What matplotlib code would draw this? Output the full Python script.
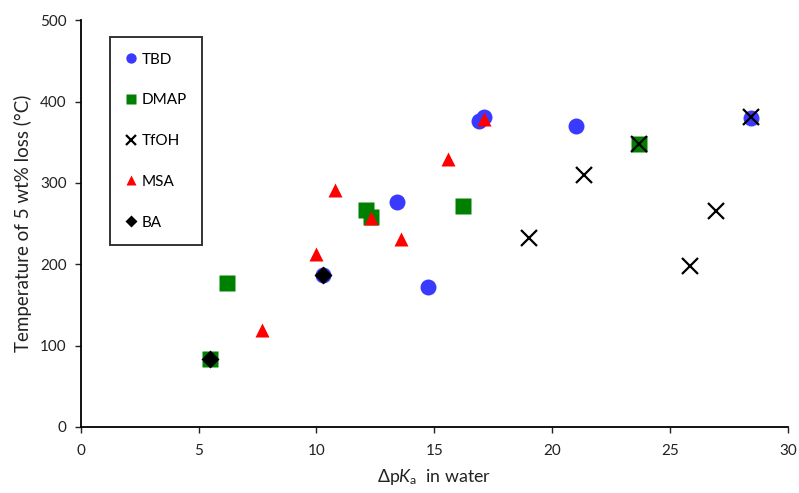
import matplotlib
matplotlib.use("Agg")
import matplotlib.pyplot as plt

plt.rcParams['font.family'] = ['Lato', 'DejaVu Sans']
plt.rcParams['mathtext.fontset'] = 'custom'
plt.rcParams['mathtext.rm'] = 'Lato'
plt.rcParams['mathtext.it'] = 'Lato:italic'

# Temperature at 5 wt% loss vs. delta pKa for each acid/base family
tbd_x = [10.3, 13.4, 14.75, 16.9, 17.1, 21.0, 28.45]
tbd_y = [187, 276, 172, 376, 381, 370, 380]

dmap_x = [5.5, 6.2, 12.1, 12.3, 16.2, 23.7]
dmap_y = [84, 177, 267, 258, 271, 348]

tfoh_x = [19.0, 21.35, 23.7, 25.85, 26.95, 28.45]
tfoh_y = [232, 310, 348, 198, 265, 381]

msa_x = [7.7, 10.0, 10.8, 12.3, 13.6, 15.6, 17.1]
msa_y = [119, 212, 291, 257, 231, 329, 379]

ba_x = [5.5, 10.3]
ba_y = [84, 187]

fig = plt.figure(figsize=(7.99, 4.93), dpi=100)
ax = fig.add_axes([0.101, 0.134, 0.885, 0.825])

ax.plot(tbd_x, tbd_y, 'o', color='#3a3aff', ms=11.5, mec='none', label='TBD', zorder=2)
ax.plot(dmap_x, dmap_y, 's', color='#008000', ms=11.5, mec='none', label='DMAP', zorder=3)
ax.plot(tfoh_x, tfoh_y, 'x', color='black', ms=12, mew=1.6, label='TfOH', zorder=5)
ax.plot(msa_x, msa_y, '^', color='#ff0000', ms=10.5, mec='none', label='MSA', zorder=4)
ax.plot(ba_x, ba_y, 'D', color='black', ms=9.5, mec='none', label='BA', zorder=6)

ax.set_xlim(0, 30)
ax.set_ylim(0, 500)
ax.set_xticks(range(0, 31, 5))
ax.set_yticks(range(0, 501, 100))
for s in ('top', 'right'):
    ax.spines[s].set_visible(False)
for s in ('left', 'bottom'):
    ax.spines[s].set_linewidth(1.3)
    ax.spines[s].set_color('black')
ax.tick_params(direction='out', length=4, width=1.0, labelsize=11, colors='#222222')
ax.tick_params(axis='x', pad=8)
ax.tick_params(axis='y', pad=6)

ax.set_xlabel(r'$\Delta$p$K_\mathrm{a}$  in water', fontsize=12.8, color='#222222', labelpad=7)
ax.set_ylabel('Temperature of 5 wt% loss (°C)', fontsize=13.5, color='#222222', labelpad=6)

leg = ax.legend(loc='upper left', bbox_to_anchor=(0.041, 0.958), fontsize=11,
                markerscale=0.65, labelspacing=1.75, handlelength=0.8, handletextpad=0.3,
                borderpad=1.0, borderaxespad=0, fancybox=False, frameon=True)
leg.get_frame().set_edgecolor('black')
leg.get_frame().set_linewidth(1.4)

fig.savefig('out.png', dpi=100)
